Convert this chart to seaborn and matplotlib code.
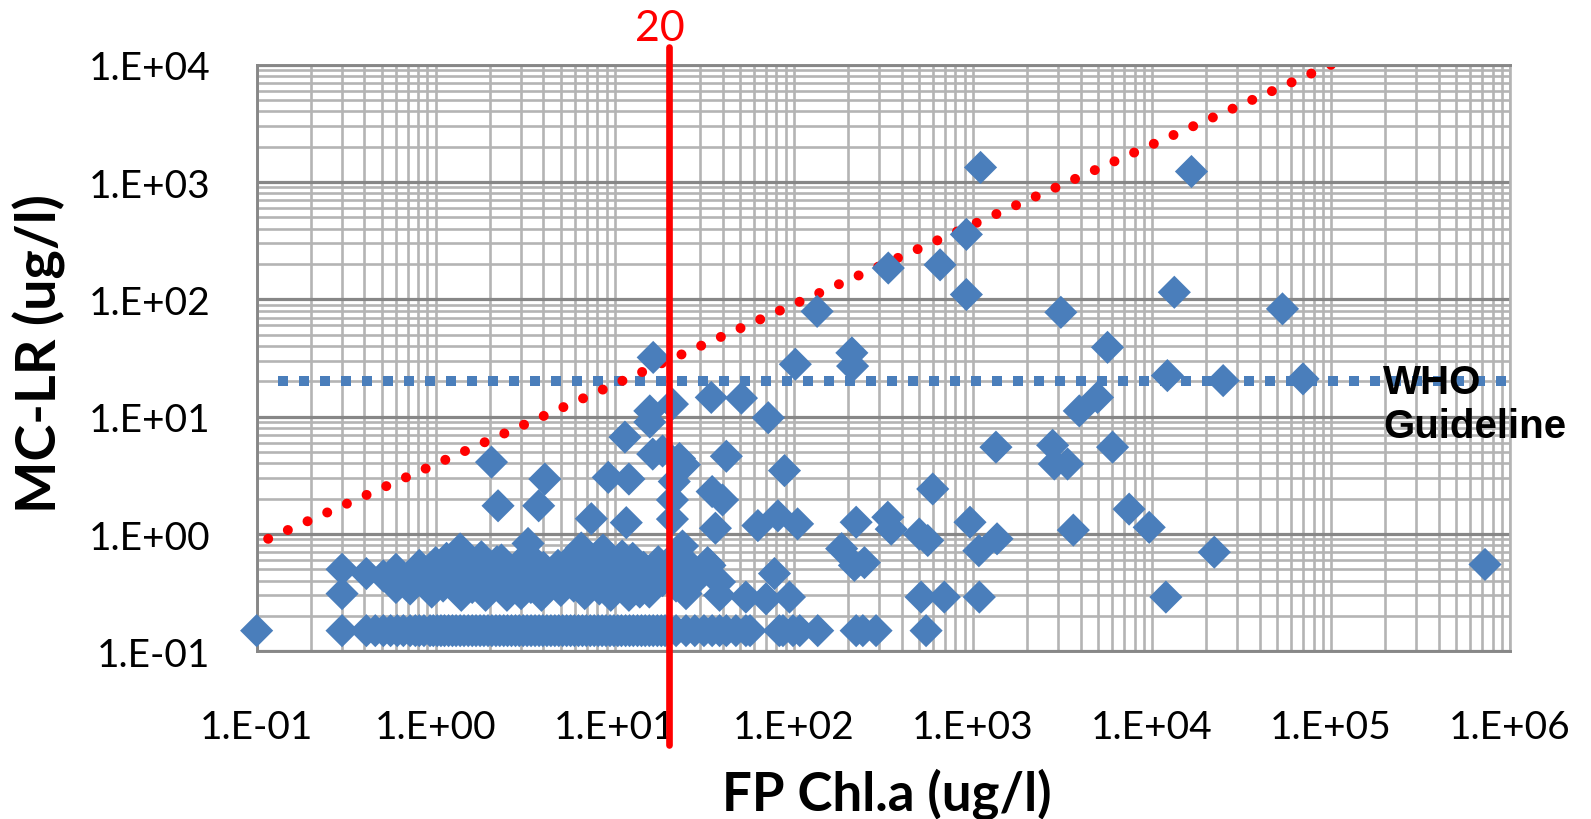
import numpy as np
import pandas as pd
import matplotlib
matplotlib.use("Agg")
import matplotlib.pyplot as plt
import seaborn as sns
from matplotlib.ticker import LogLocator, NullFormatter

# --- data -------------------------------------------------------------
# samples below the MC-LR detection limit
nd_level = 0.15
nd_chl = [0.10, 0.30, 0.41, 0.46, 0.51, 0.56, 0.61, 0.66, 0.72, 0.77, 0.81, 0.86,
          0.93, 0.97, 1.02, 1.07, 1.12, 1.18, 1.24, 1.30, 1.37, 1.44, 1.52, 1.60,
          1.68, 1.77, 1.86, 1.96, 2.06, 2.17, 2.28, 2.40, 2.52, 2.65, 2.79, 2.93,
          3.08, 3.24, 3.41, 3.59, 3.78, 3.97, 4.18, 4.40, 4.63, 4.87, 5.12, 5.39,
          5.67, 5.96, 6.27, 6.60, 6.94, 7.30, 7.68, 8.08, 8.50, 8.94, 9.41, 9.90,
          10.4, 10.9, 11.5, 12.1, 12.7, 13.4, 14.1, 14.8, 15.6, 16.4, 17.3, 18.2,
          19.1, 20.1, 22.0, 25.0, 28.0, 31.5, 35.0, 38.5, 42.0, 47.5, 54.0, 57.0,
          83.0, 87.0, 99.0, 108.0, 136.0, 223.0, 243.0, 288.0, 548.0]

# low-concentration band
low_chl = [0.30, 0.30, 0.41, 0.51, 0.60, 0.60, 0.72, 0.72, 0.81, 0.90,
           0.95, 1.00, 1.05, 1.10, 1.15, 1.25, 1.30, 1.37, 1.39, 1.45,
           1.50, 1.60, 1.65, 1.80, 1.85, 1.90, 2.00, 2.10, 2.20, 2.33,
           2.40, 2.50, 2.60, 2.75, 2.90, 3.00, 3.10, 3.28, 3.40, 3.50,
           3.70, 3.90, 4.00, 4.20, 4.50, 4.82, 5.00, 5.30, 5.60, 5.90,
           6.20, 6.50, 6.80, 7.00, 7.40, 7.80, 8.20, 8.60, 9.00, 9.50,
           10.0, 10.5, 11.0, 11.5, 12.0, 12.6, 13.2, 13.8, 14.5, 15.0,
           15.6, 16.5, 17.5, 18.5, 20.0, 21.0, 22.0, 23.0, 23.9, 25.0,
           26.0, 28.0, 33.0, 34.0, 38.5]
low_mclr = [0.50, 0.31, 0.46, 0.44, 0.50, 0.35, 0.44, 0.34, 0.54, 0.42,
            0.32, 0.57, 0.45, 0.36, 0.62, 0.41, 0.52, 0.745, 0.30, 0.66,
            0.45, 0.35, 0.55, 0.64, 0.40, 0.30, 0.50, 0.36, 0.58, 0.60,
            0.42, 0.30, 0.48, 0.38, 0.55, 0.31, 0.44, 0.83, 0.35, 0.60,
            0.45, 0.30, 0.52, 0.38, 0.47, 0.54, 0.33, 0.42, 0.60, 0.36,
            0.48, 0.76, 0.31, 0.55, 0.40, 0.62, 0.34, 0.73, 0.45, 0.30,
            0.55, 0.38, 0.65, 0.42, 0.30, 0.62, 0.48, 0.32, 0.52, 0.36,
            0.32, 0.45, 0.58, 0.40, 0.50, 0.62, 0.36, 0.45, 0.79, 0.31,
            0.55, 0.40, 0.57, 0.54, 0.30]

# intermediate samples
mid_chl = [2.05, 2.23, 3.76, 4.07, 7.4, 9.2, 11.4, 11.6, 12.0, 15.7,
           15.7, 16.3, 18.5, 21.0, 21.0, 21.5, 21.0, 23.0, 24.5, 35.0,
           40.0, 36.5, 38.5, 42.0, 34.6, 51.0, 72.0, 88.7, 63.0, 81.5,
           105.0, 54.0, 70.0, 78.0, 94.6, 185.0, 218.0, 248.0, 223.0, 335.0,
           350.0, 502.0, 560.0, 514.0, 597.0, 693.0, 964.0, 1080.0, 1087.0, 1365.0]
mid_mclr = [4.1, 1.74, 1.74, 2.94, 1.35, 3.04, 6.7, 1.25, 2.94, 11.2,
            9.0, 4.8, 5.1, 12.8, 1.34, 2.8, 1.95, 4.4, 3.9, 2.3,
            1.95, 1.12, 0.39, 4.6, 14.6, 14.4, 9.8, 3.47, 1.18, 1.43,
            1.22, 0.29, 0.28, 0.46, 0.29, 0.75, 0.54, 0.57, 1.26, 1.39,
            1.1, 1.0, 0.88, 0.29, 2.42, 0.29, 1.26, 0.72, 0.29, 0.91]

# high-biomass / high-toxin samples
high_chl = [16.4, 102.0, 135.0, 211.0, 213.0, 337.0, 656.0, 920.0, 920.0, 1104.0,
            1346.0, 2790.0, 2850.0, 3380.0, 3100.0, 3640.0, 3930.0, 4970.0, 5650.0, 6030.0,
            7460.0, 9660.0, 11970.0, 12200.0, 13340.0, 16630.0, 22300.0, 25000.0, 53600.0, 69800.0,
            725000.0]
high_mclr = [32.0, 28.0, 79.0, 35.0, 27.0, 185.0, 197.0, 358.0, 110.0, 1333.0,
             5.5, 5.7, 3.95, 3.95, 77.6, 1.08, 11.2, 14.6, 39.0, 5.5,
             1.63, 1.14, 0.29, 22.4, 115.0, 1230.0, 0.70, 20.3, 83.0, 21.0,
             0.55]

# power-law envelope (end points) and WHO guideline
envelope_chl = [0.116, 1.0e5]
envelope_mclr = [0.91, 1.0e4]
who_chl = [0.131, 1.0e6]
who_mclr = [20.0, 20.0]
chl_threshold = 20

x_ticks = [1e-1, 1e0, 1e1, 1e2, 1e3, 1e4, 1e5, 1e6]
x_ticklabels = ["1.E-01", "1.E+00", "1.E+01", "1.E+02", "1.E+03", "1.E+04", "1.E+05", "1.E+06"]
y_ticks = [1e-1, 1e0, 1e1, 1e2, 1e3, 1e4]
y_ticklabels = ["1.E-01", "1.E+00", "1.E+01", "1.E+02", "1.E+03", "1.E+04"]

# --- figure -----------------------------------------------------------
sns.set_theme(style="white")
plt.rcParams["font.family"] = ["Lato", "DejaVu Sans"]

BLUE = "#4A7EBB"
DARK_GRID = "#878787"
LIGHT_GRID = "#b4b4b4"

fig = plt.figure(figsize=(15.91, 8.20), dpi=100)
ax = fig.add_axes([0.1613, 0.2045, 0.7878, 0.7153])

df = pd.DataFrame({
    "chl": nd_chl + low_chl + mid_chl + high_chl,
    "mclr": [nd_level] * len(nd_chl) + low_mclr + mid_mclr + high_mclr,
})

ax.set_xscale("log")
ax.set_yscale("log")

# guideline and envelope lines (round dots spaced so both ends carry a dot)
ax.plot(who_chl, who_mclr, color=BLUE, lw=7.2, solid_capstyle="butt",
        dash_capstyle="butt", linestyle=(0, (1.0, 1.1)), zorder=2)
ax.plot(envelope_chl, envelope_mclr, color="red", lw=7.2,
        dash_capstyle="round", linestyle=(0, (0.001, 2.154)), zorder=2)

sns.scatterplot(data=df, x="chl", y="mclr", marker="D", s=285, color=BLUE,
                linewidth=0, edgecolor="none", legend=False, ax=ax, zorder=3,
                clip_on=False)

ax.set_xlim(1e-1, 1e6)
ax.set_ylim(1e-1, 1e4)

# threshold line with its label
ax.axvline(chl_threshold, ymin=-0.16, ymax=1.031, color="red", lw=4.8,
           clip_on=False, zorder=6)
ax.annotate(str(chl_threshold), xy=(chl_threshold, 1.063),
            xycoords=("data", "axes fraction"), xytext=(-6, 0),
            textcoords="offset points", ha="center", va="center",
            color="red", fontsize=31, annotation_clip=False)

ax.text(0.8987, 0.492, "WHO\nGuideline", transform=ax.transAxes, ha="left",
        va="top", fontsize=29, fontweight="bold", family="Liberation Sans",
        linespacing=1.22, color="black", zorder=7)

# ticks and grid
ax.set_xticks(x_ticks, x_ticklabels)
ax.set_yticks(y_ticks, y_ticklabels)
ax.xaxis.set_minor_locator(LogLocator(base=10, subs=np.arange(2, 10), numticks=20))
ax.yaxis.set_minor_locator(LogLocator(base=10, subs=np.arange(2, 10), numticks=20))
ax.xaxis.set_minor_formatter(NullFormatter())
ax.yaxis.set_minor_formatter(NullFormatter())

ax.set_axisbelow(True)
ax.grid(which="minor", axis="both", color=LIGHT_GRID, lw=1.9)
ax.grid(which="major", axis="x", color=LIGHT_GRID, lw=1.9)
ax.grid(which="major", axis="y", color=DARK_GRID, lw=2.3)

ax.tick_params(axis="both", which="major", length=9.4, width=1.8,
               color=DARK_GRID, direction="out", labelsize=28, labelcolor="black")
ax.tick_params(axis="x", which="major", pad=32)
ax.tick_params(axis="y", which="major", pad=24)
ax.tick_params(axis="both", which="minor", length=0)

for side in ["left", "bottom", "top"]:
    ax.spines[side].set_color(DARK_GRID)
    ax.spines[side].set_linewidth(2.1)
ax.spines["right"].set_color(LIGHT_GRID)
ax.spines["right"].set_linewidth(1.9)

ax.set_xlabel("FP Chl.a (ug/l)", fontsize=38, fontweight="bold", color="black")
ax.set_ylabel("MC-LR (ug/l)", fontsize=40, fontweight="bold", color="black")
ax.xaxis.set_label_coords(0.503, -0.198)
ax.yaxis.set_label_coords(-0.152, 0.51)

fig.savefig("out.png", dpi=100)
